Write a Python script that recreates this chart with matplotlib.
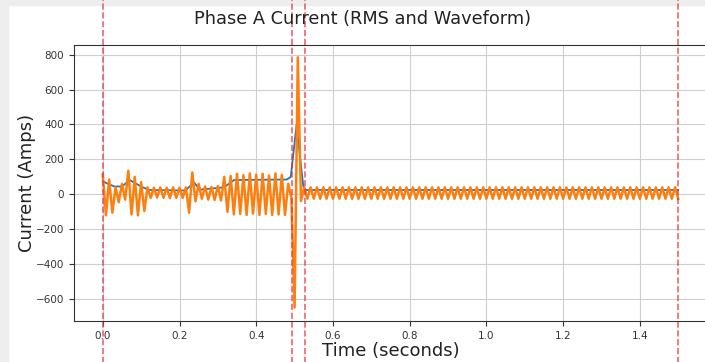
import numpy as np
import matplotlib.pyplot as plt
from matplotlib.patches import Rectangle

# sampled waveform: one value per half cycle of the 60 Hz fundamental
half_period = 1 / 120
wave_pre = [115, -120, 85, -105, 40, -45, 60, -30, 135, -115, 100, -120,
            70, -95, 40, -20, 38, -18, 40, -20, 38, -22, 40, -20, 38, -20,
            40, -105, 125, -40, 60, -25, 45, -30, 42, -32, 48, -35, 100, -100,
            105, -115, 118, -112, 110, -118, 120, -110, 112, -118, 118, -112,
            108, -118, 120, -115, 112, -118, 60, -20]
wave_fault = [-648, 785, -38]
wave_post = [40, -25] * 59
wave = np.array(wave_pre + wave_fault + wave_post)
wave_t = np.arange(len(wave)) * half_period

# rms computed per cycle
rms_t = [0.0, 0.012, 0.03, 0.05, 0.07, 0.1, 0.12, 0.215, 0.238, 0.253,
         0.316, 0.342, 0.48, 0.49, 0.505, 0.523, 0.53, 1.5]
rms = [75, 62, 45, 45, 82, 45, 25, 22, 68, 27, 40, 82, 85, 100, 395, 42, 25, 25]

# event markers (fault start/end, record bounds)
events = [0.0, 0.492, 0.527, 1.5]

fig = plt.figure(figsize=(7.05, 3.62), dpi=100)
fig.patches.append(Rectangle((0, 0), 8 / 705, 1, transform=fig.transFigure,
                             color='#eeeeee', zorder=-1))
fig.patches.append(Rectangle((0, 1 - 5 / 362), 1, 5 / 362, transform=fig.transFigure,
                             color='#eeeeee', zorder=-1))

ax = fig.add_axes([74 / 705, 41 / 362, 633 / 705, 276 / 362])
ax.plot(rms_t, rms, color='#1f77b4', linewidth=1.3)
ax.plot(wave_t, wave, color='#ff7f0e', linewidth=1.8)
for t in events:
    ax.axvline(t, ymin=-0.2, ymax=1.2, color='#e8303c', linestyle='--',
               linewidth=1.2, alpha=0.75, clip_on=False)

ax.set_xlim(-0.075, 1.575)
ax.set_ylim(-725, 855)
ax.set_xticks([0.0, 0.2, 0.4, 0.6, 0.8, 1.0, 1.2, 1.4])
ax.set_yticks([-600, -400, -200, 0, 200, 400, 600, 800])
ax.tick_params(labelsize=7.5, colors='#333333')
for s in ax.spines.values():
    s.set_color('#333333')
ax.grid(True, color='#cfcfcf', linewidth=0.8)
ax.set_xlabel('Time (seconds)', fontsize=13, labelpad=1, color='#222222')
ax.set_ylabel('Current (Amps)', fontsize=13, color='#222222')
ax.yaxis.set_label_coords(-0.06, 0.5)
fig.text(363 / 705, 1 - 19 / 362, 'Phase A Current (RMS and Waveform)',
         fontsize=12.8, ha='center', va='center', color='#222222')

fig.savefig('out.png', dpi=100)
